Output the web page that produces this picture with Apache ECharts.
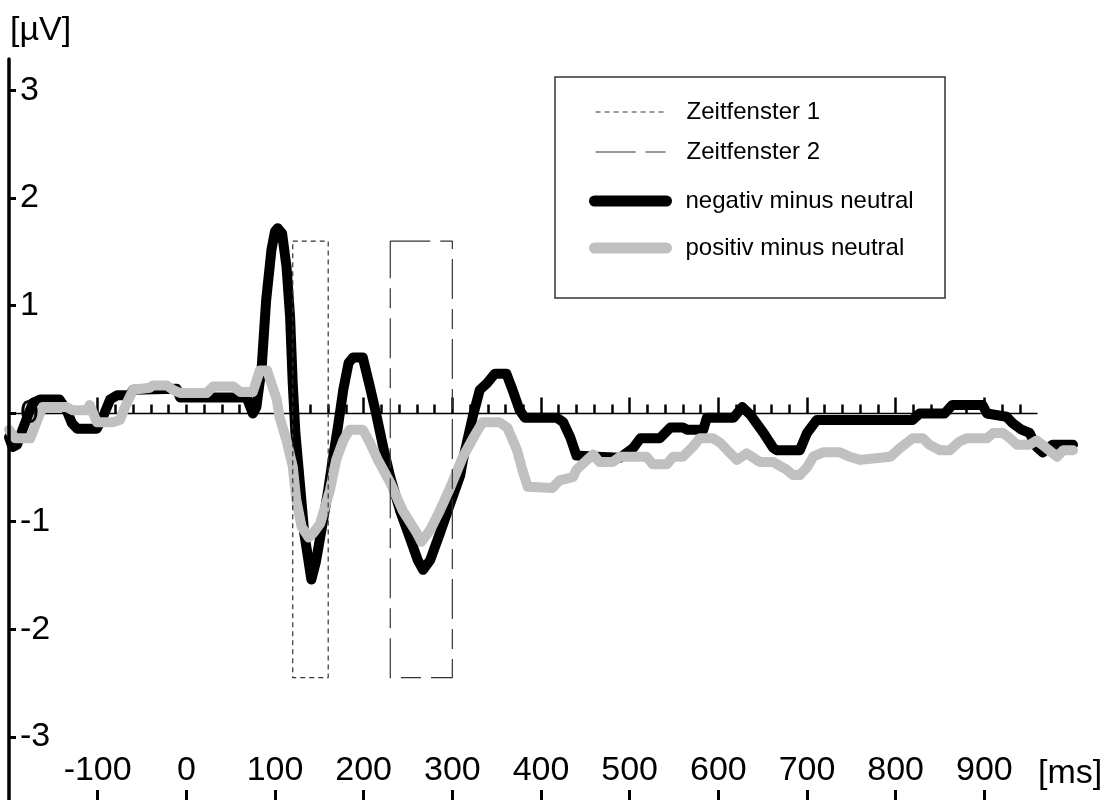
<!DOCTYPE html>
<html><head><meta charset="utf-8">
<script src="https://cdn.jsdelivr.net/npm/echarts@6/dist/echarts.min.js"></script>
<style>
html, body { margin: 0; padding: 0; background: #fff; }
#main { width: 1109px; height: 800px; }
</style></head><body><div id="main"></div><script>
// time in ms, amplitude in µV
var negT = [-200,-196,-191,-182,-173,-165,-143,-135,-129,-123,-101,-94,-86,-78,-64,-60,-11,-7,68,75,
  79,85,90,96,100,103,108,113,117,120,123,128,133,141,146,152,160,165,171,177,183,188,199,207,214,222,
  230,241,252,261,267,275,286,297,309,312,323,331,339,348,361,367,376,382,418,425,433,440,463,489,504,512,
  534,546,560,565,583,587,617,627,636,651,662,666,692,700,711,819,827,855,864,898,903,925,932,942,951,959,966,977,1000];
var negV = [-0.22,-0.31,-0.29,-0.09,0.10,0.13,0.13,0.03,-0.09,-0.14,-0.14,-0.03,0.13,0.17,0.17,0.22,0.23,0.15,0.15,0.0,
  0.06,0.43,1.05,1.52,1.69,1.72,1.67,1.36,0.90,0.28,-0.18,-0.64,-1.11,-1.54,-1.38,-1.10,-0.71,-0.43,-0.12,0.22,0.47,0.52,0.52,0.25,0.0,-0.31,
  -0.59,-0.90,-1.15,-1.36,-1.45,-1.36,-1.11,-0.85,-0.57,-0.43,-0.03,0.22,0.28,0.37,0.37,0.24,0.03,-0.04,-0.04,-0.08,-0.22,-0.39,-0.40,-0.41,-0.32,-0.23,
  -0.23,-0.13,-0.13,-0.15,-0.15,-0.04,-0.04,0.06,-0.01,-0.18,-0.32,-0.34,-0.34,-0.18,-0.06,-0.06,0.0,0.0,0.08,0.08,0.0,-0.03,-0.09,-0.15,-0.18,-0.31,-0.36,-0.29,-0.29];

var posT = [-200,-193,-176,-168,-162,-135,-128,-112,-109,-101,-83,-75,-67,-60,-41,-38,-22,-15,-7,23,30,53,61,75,83,91,
  102,105,113,120,124,130,138,143,151,162,169,177,184,199,207,216,230,244,260,265,275,286,298,312,324,334,353,
  362,373,380,385,413,421,436,440,452,459,466,481,489,519,526,542,549,560,571,579,594,602,610,621,632,647,662,
  677,684,692,700,707,718,737,748,760,794,805,819,831,838,850,861,872,880,903,910,921,929,937,951,959,970,982,989,1000];
var posV = [-0.15,-0.23,-0.23,-0.06,0.06,0.06,0.03,0.03,0.08,-0.08,-0.08,-0.06,0.10,0.22,0.24,0.26,0.26,0.22,0.19,0.19,0.25,0.25,0.20,0.20,0.40,0.40,
  0.13,-0.03,-0.25,-0.49,-0.80,-1.05,-1.15,-1.11,-1.02,-0.71,-0.43,-0.25,-0.15,-0.15,-0.27,-0.43,-0.64,-0.90,-1.11,-1.19,-1.08,-0.90,-0.68,-0.40,-0.22,-0.08,-0.08,
  -0.13,-0.34,-0.55,-0.68,-0.69,-0.62,-0.59,-0.52,-0.43,-0.38,-0.45,-0.45,-0.40,-0.40,-0.47,-0.47,-0.40,-0.40,-0.31,-0.23,-0.23,-0.27,-0.34,-0.43,-0.37,-0.45,-0.45,
  -0.52,-0.57,-0.57,-0.50,-0.40,-0.36,-0.36,-0.40,-0.43,-0.40,-0.32,-0.23,-0.23,-0.29,-0.34,-0.34,-0.26,-0.23,-0.23,-0.18,-0.18,-0.23,-0.29,-0.29,-0.25,-0.32,-0.40,-0.34,-0.34];

// analysis windows (ms) and their vertical extent (µV)
var win1 = [120, 160];
var win2 = [230, 300];
var winTop = 1.6, winBottom = -2.45;

var xLabels = [-100, 0, 100, 200, 300, 400, 500, 600, 700, 800, 900];
var yLabels = [-3, -2, -1, 0, 1, 2, 3];
var zeroLine = [-200, 960];
var bigTicks = [-100, 100, 200, 300, 400, 500, 600, 700, 800, 900];
var smallTicks = [];
for (var t = -100; t <= 940; t += 20) smallTicks.push(t);

var xMin = -200, xMax = 1000, yMin = -3.585, yMax = 3.289;
var font = 'Liberation Sans, Arial, sans-serif';

function pairs(tt, vv) {
  return tt.map(function (x, i) { return [x, vv[i]]; });
}
function box(w) {
  return [[w[0], winTop], [w[1], winTop], [w[1], winBottom], [w[0], winBottom], [w[0], winTop]];
}

var myChart = echarts.init(document.getElementById('main'));
var gridPos = { left: 9, right: 36, top: 59, bottom: 0, outerBoundsMode: 'none' };

var legendBase = {
  orient: 'vertical', padding: 0,
  itemWidth: 72, itemHeight: 14, selectedMode: false,
  itemStyle: { opacity: 0 },
  textStyle: { fontSize: 24, color: '#000', padding: [0, 0, 0, 14] }
};

var option = {
  animation: false,
  textStyle: { fontFamily: font },
  grid: [gridPos, gridPos],
  xAxis: [{
    gridIndex: 0, type: 'value', min: xMin, max: xMax, position: 'bottom',
    axisLine: { show: false, onZero: false },
    axisTick: { show: true, inside: true, length: 10, customValues: xLabels, lineStyle: { color: '#000', width: 3 } },
    axisLabel: { inside: true, margin: 12, fontSize: 34, color: '#000', customValues: xLabels },
    splitLine: { show: false }
  }, {
    gridIndex: 0, type: 'value', min: xMin, max: xMax, position: 'top',
    axisLine: { show: false, onZero: true },
    axisTick: { show: true, inside: false, length: 9, customValues: smallTicks, lineStyle: { color: '#000', width: 2.5 } },
    axisLabel: { show: false },
    splitLine: { show: false }
  }, {
    gridIndex: 1, type: 'value', min: xMin, max: xMax, position: 'bottom',
    axisLine: { show: false, onZero: true },
    axisTick: { show: true, inside: true, length: 16, customValues: bigTicks, lineStyle: { color: '#000', width: 2.5 } },
    axisLabel: { show: false },
    splitLine: { show: false }
  }],
  yAxis: [{
    gridIndex: 0, type: 'value', min: yMin, max: yMax, z: 5,
    axisLine: { show: true, onZero: false, lineStyle: { color: '#000', width: 3.5 } },
    axisTick: { show: true, inside: true, length: 7, customValues: yLabels, lineStyle: { color: '#000', width: 3 } },
    axisLabel: { inside: true, margin: 11, fontSize: 34, color: '#000', customValues: yLabels },
    splitLine: { show: false }
  }, {
    gridIndex: 1, type: 'value', min: yMin, max: yMax, show: false,
    axisLine: { onZero: false }, splitLine: { show: false }
  }],
  legend: [
    Object.assign({}, legendBase, {
      left: 595, top: 100, itemGap: 16,
      data: [
        { name: 'Zeitfenster 1', lineStyle: { width: 1.2 } },
        { name: 'Zeitfenster 2', lineStyle: { width: 1.2 } }
      ]
    }),
    Object.assign({}, legendBase, {
      left: 589, top: 189, itemGap: 23,
      data: [
        { name: 'negativ minus neutral', lineStyle: { width: 11 } },
        { name: 'positiv minus neutral', lineStyle: { width: 11 } }
      ]
    })
  ],
  graphic: [{
    type: 'rect', shape: { x: 555, y: 77, width: 390, height: 221 },
    style: { fill: 'transparent', stroke: '#333', lineWidth: 1.5 }
  }, {
    type: 'text', x: 10, y: 31,
    style: { text: '[µV]', fontSize: 34, fill: '#000', fontFamily: font, verticalAlign: 'middle' }
  }, {
    type: 'text', x: 1038, y: 774,
    style: { text: '[ms]', fontSize: 34, fill: '#000', fontFamily: font, verticalAlign: 'middle' }
  }],
  series: [{
    name: 'baseline', type: 'line', data: pairs(zeroLine, [0, 0]),
    symbol: 'none', silent: true, z: 1,
    lineStyle: { color: '#000', width: 1.5 }
  }, {
    name: 'Zeitfenster 1', type: 'line', data: box(win1), symbol: 'none', z: 4,
    itemStyle: { color: '#333' },
    lineStyle: { color: '#333', width: 1.2, type: [5, 4] }
  }, {
    name: 'Zeitfenster 2', type: 'line', data: box(win2), symbol: 'none', z: 4,
    itemStyle: { color: '#333' },
    lineStyle: { color: '#333', width: 1.2, type: [40, 10, 20, 10] }
  }, {
    name: 'negativ minus neutral', type: 'line', data: pairs(negT, negV),
    symbol: 'none', clip: false, z: 2,
    itemStyle: { color: '#000' },
    lineStyle: { color: '#000', width: 10, join: 'round', cap: 'round' }
  }, {
    name: 'positiv minus neutral', type: 'line', data: pairs(posT, posV),
    symbol: 'none', clip: false, z: 3,
    itemStyle: { color: '#c0c0c0' },
    lineStyle: { color: '#c0c0c0', width: 10, join: 'round', cap: 'round' }
  }]
};
myChart.setOption(option);
</script></body></html>
